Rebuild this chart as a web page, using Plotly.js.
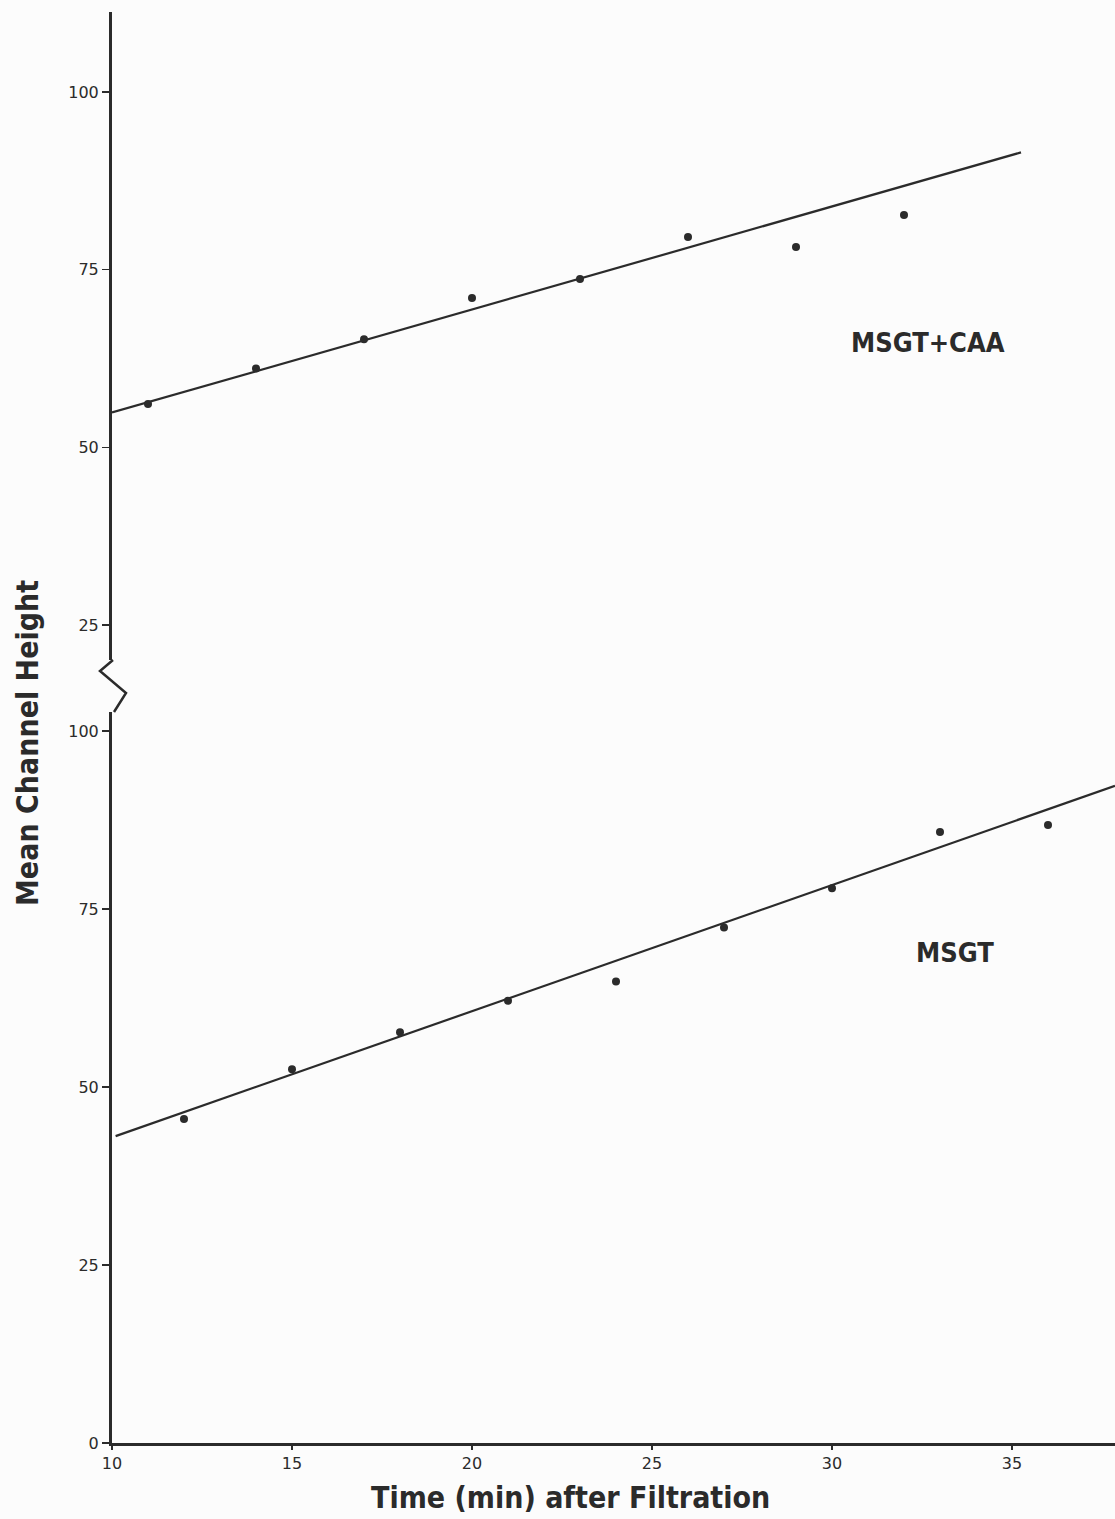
<!DOCTYPE html>
<html>
<head>
<meta charset="utf-8">
<script src="https://cdn.plot.ly/plotly-3.0.1.min.js"></script>
<style>html,body{margin:0;padding:0;background:#fcfcfc;}#chart{width:1115px;height:1519px;}</style>
</head>
<body>
<div id="chart"></div>
<script>
// MSGT+CAA (upper panel)
const caaTime = [11, 14, 17, 20, 23, 26, 29, 32];
const caaHeight = [56.1, 61.1, 65.2, 71.0, 73.7, 79.6, 78.2, 82.7];
const caaFitTime = [10, 35.25];
const caaFitHeight = [54.9, 91.5];

// MSGT (lower panel)
const msgtTime = [12, 15, 18, 21, 24, 27, 30, 33, 36];
const msgtHeight = [45.5, 52.5, 57.7, 62.1, 64.8, 72.4, 77.9, 85.8, 86.8];
const msgtFitTime = [10.1, 37.86];
const msgtFitHeight = [43.1, 92.3];

const xTicks = [10, 15, 20, 25, 30, 35];
const upperTicks = [25, 50, 75, 100];
const lowerTicks = [0, 25, 50, 75, 100];

const ink = '#2b2b2b';
const tickFont = {family: 'DejaVu Sans, sans-serif', size: 16, color: ink};
const labelFont = {family: 'DejaVu Sans Condensed, DejaVu Sans, sans-serif', size: 27, color: ink, weight: 'bold'};
const titleFont = {family: 'DejaVu Sans Condensed, DejaVu Sans, sans-serif', size: 30, color: ink, weight: 'bold'};

// pixel helpers for paper coords
const L = 112, R = 0, T = 12, B = 76, W = 1115, H = 1519;
const pw = W - L - R, ph = H - T - B;
const px = v => (v - L) / pw;
const py = v => (H - B - v) / ph;

const traces = [
  {x: caaFitTime, y: caaFitHeight, xaxis: 'x', yaxis: 'y2', mode: 'lines', line: {color: ink, width: 2.2}, hoverinfo: 'skip'},
  {x: caaTime, y: caaHeight, xaxis: 'x', yaxis: 'y2', mode: 'markers', marker: {color: ink, size: 8}},
  {x: msgtFitTime, y: msgtFitHeight, xaxis: 'x', yaxis: 'y', mode: 'lines', line: {color: ink, width: 2.2}, hoverinfo: 'skip'},
  {x: msgtTime, y: msgtHeight, xaxis: 'x', yaxis: 'y', mode: 'markers', marker: {color: ink, size: 8}}
];

const zig = [[113, 660], [100, 671], [126, 693], [114, 712]];
const zigPath = zig.map((p, i) => (i ? 'L' : 'M') + px(p[0]) + ',' + py(p[1])).join(' ');

const layout = {
  width: W, height: H,
  margin: {l: L, r: R, t: T, b: B},
  paper_bgcolor: '#fcfcfc', plot_bgcolor: '#fcfcfc',
  showlegend: false,
  xaxis: {
    range: [10, 10 + pw / 36], domain: [0, 1], anchor: 'y',
    tickvals: xTicks, ticktext: xTicks.map(String), ticks: 'outside', ticklen: 4, tickwidth: 1.5, tickcolor: ink,
    showline: true, linecolor: ink, linewidth: 3, showgrid: false, zeroline: false,
    tickfont: tickFont
  },
  yaxis: {
    range: [0, 100 + (731 - 712) / 7.12], domain: [0, py(712)], anchor: 'x',
    tickvals: lowerTicks, ticktext: lowerTicks.map(String), ticks: 'outside', ticklen: 7, tickwidth: 1.5, tickcolor: ink,
    showline: true, linecolor: ink, linewidth: 3, showgrid: false, zeroline: false,
    tickfont: tickFont
  },
  yaxis2: {
    range: [25 - (660 - 625) / 7.107, 100 + (92 - 12) / 7.107], domain: [py(660), 1], anchor: 'x',
    tickvals: upperTicks, ticktext: upperTicks.map(String), ticks: 'outside', ticklen: 7, tickwidth: 1.5, tickcolor: ink,
    showline: true, linecolor: ink, linewidth: 3, showgrid: false, zeroline: false,
    tickfont: tickFont
  },
  shapes: [
    {type: 'path', xref: 'paper', yref: 'paper', path: zigPath, line: {color: ink, width: 2.5}}
  ],
  annotations: [
    {text: 'MSGT+CAA', xref: 'paper', yref: 'paper', x: px(928), y: py(342), xanchor: 'center', yanchor: 'middle', showarrow: false, font: labelFont},
    {text: 'MSGT', xref: 'paper', yref: 'paper', x: px(955), y: py(952), xanchor: 'center', yanchor: 'middle', showarrow: false, font: labelFont},
    {text: 'Mean Channel Height', xref: 'paper', yref: 'paper', x: px(27), y: py(743), xanchor: 'center', yanchor: 'middle', textangle: -90, showarrow: false, font: titleFont},
    {text: 'Time (min) after Filtration', xref: 'paper', yref: 'paper', x: px(570), y: py(1497), xanchor: 'center', yanchor: 'middle', showarrow: false, font: titleFont}
  ]
};

Plotly.newPlot('chart', traces, layout, {displayModeBar: false, staticPlot: true});
</script>
</body>
</html>
